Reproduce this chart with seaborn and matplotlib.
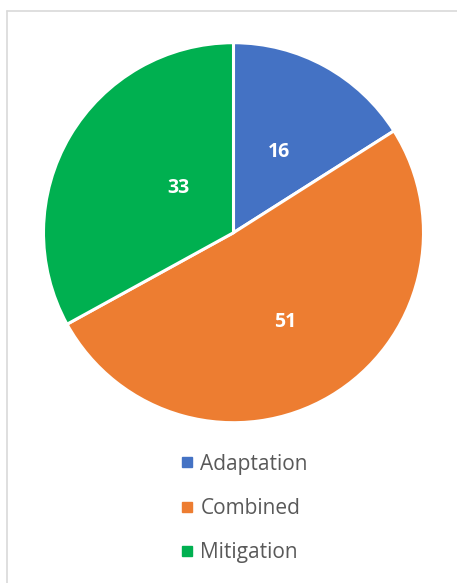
import matplotlib
matplotlib.use("Agg")
import matplotlib.pyplot as plt
import seaborn as sns
import numpy as np
from matplotlib.lines import Line2D

categories = ["Adaptation", "Combined", "Mitigation"]
values = [16, 51, 33]
colors = ["#4472C4", "#ED7D31", "#00B050"]
label_dist = [0.5, 0.53, 0.38]      # styling: radial position of each data label
label_shift_deg = [0, 0, -10]        # styling: angular nudge of each data label

sns.set_theme(style="white")
plt.rcParams['font.family'] = ['Open Sans', 'DejaVu Sans']

W, H = 457, 583
fig = plt.figure(figsize=(W / 100, H / 100), dpi=100)
fig.patch.set_facecolor("white")

cx, cy, R, half = 233.5, 232.7, 190.0, 200.0
ax = fig.add_axes([(cx - half) / W, (H - cy - half) / H, 2 * half / W, 2 * half / H])

wedges, texts = ax.pie(values, colors=colors, startangle=90, counterclock=False,
                       radius=R / half, labels=[str(v) for v in values],
                       labeldistance=0.5,
                       wedgeprops=dict(edgecolor="white", linewidth=2.2),
                       textprops=dict(color="white", fontweight="bold", fontsize=14))
for w, t, d, s in zip(wedges, texts, label_dist, label_shift_deg):
    ang = np.deg2rad((w.theta1 + w.theta2) / 2 + s)
    t.set_position((w.r * d * np.cos(ang), w.r * d * np.sin(ang)))
    t.set_horizontalalignment("center")
    t.set_verticalalignment("center_baseline")
ax.set_xlim(-1, 1)
ax.set_ylim(-1, 1)
ax.set_aspect("equal")
ax.axis("off")

handles = [Line2D([0], [0], marker="s", linestyle="none", markersize=6.8,
                  markerfacecolor=c, markeredgecolor=c) for c in colors]
fig.legend(handles, categories, loc="upper left",
           bbox_to_anchor=(166 / W, 1 - 439 / H), frameon=False,
           fontsize=15, labelcolor="#595959", labelspacing=1.12,
           handlelength=0.6, handletextpad=0.35, borderpad=0.2)

# partial border like the reference
fig.add_artist(Line2D([6.5 / W, 1], [1 - 10.5 / H, 1 - 10.5 / H], color="#D9D9D9", lw=1.2,
                      transform=fig.transFigure))
fig.add_artist(Line2D([6.5 / W, 6.5 / W], [0, 1 - 10.5 / H], color="#D9D9D9", lw=1.2,
                      transform=fig.transFigure))

fig.savefig("out.png", dpi=100)
